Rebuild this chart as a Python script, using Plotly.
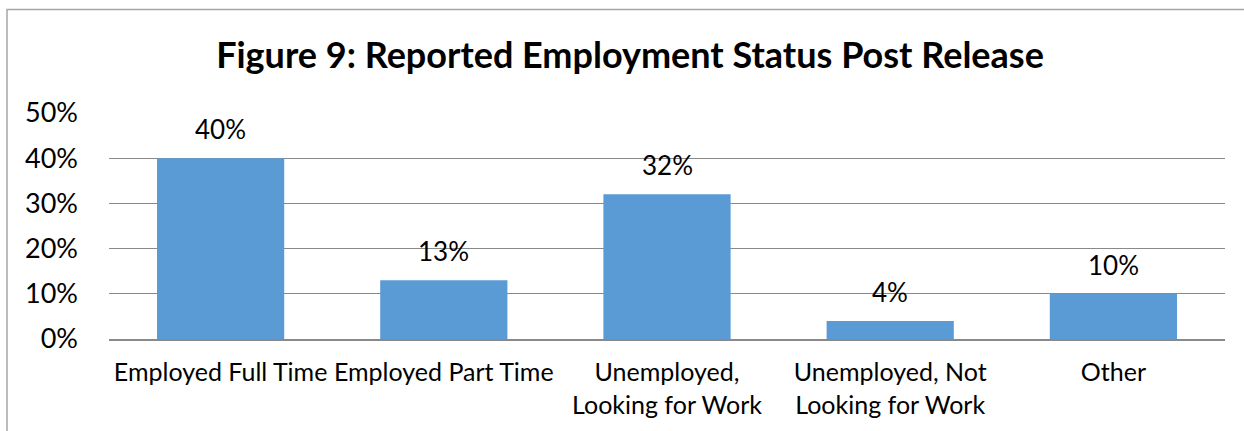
import plotly.graph_objects as go

# Survey results: employment status reported after release
categories = [
    "Employed Full Time",
    "Employed Part Time",
    "Unemployed,<br>Looking for Work",
    "Unemployed, Not<br>Looking for Work",
    "Other",
]
shares = [40, 13, 32, 4, 10]  # percent of respondents
y_ticks = [0, 10, 20, 30, 40, 50]
y_tick_labels = [f"{t}%" for t in y_ticks]

W, H = 1244, 431
M_L, M_R, M_T, M_B = 109, 19, 113, 92
FONT = "Lato"
BAR = "#5B9BD5"
GRID = "#898989"


def px_x(px):
    return (px - M_L) / (W - M_L - M_R)


def px_y(py):
    return 1 - (py - M_T) / (H - M_T - M_B)


fig = go.Figure(
    go.Bar(
        x=categories,
        y=shares,
        marker=dict(color=BAR, line=dict(width=0)),
        hoverinfo="skip",
    )
)

# value labels above each bar
for cat, v in zip(categories, shares):
    fig.add_annotation(
        x=cat, y=v, text=f"{v}%", showarrow=False,
        yanchor="bottom", yshift=11,
        font=dict(family=FONT, size=26, color="#000000"),
    )

# chart border
fig.add_shape(
    type="rect", xref="paper", yref="paper",
    x0=px_x(7), x1=px_x(W + 20), y0=px_y(H + 20), y1=px_y(9.5),
    line=dict(color="#A6A6A6", width=1.5), fillcolor="rgba(0,0,0,0)",
    layer="below",
)

fig.update_layout(
    width=W, height=H,
    margin=dict(l=M_L, r=M_R, t=M_T, b=M_B, pad=0),
    paper_bgcolor="white", plot_bgcolor="white",
    bargap=0.43,
    showlegend=False,
    title=dict(
        text="<b>Figure 9: Reported Employment Status Post Release</b>",
        x=630 / W, xanchor="center",
        y=1 - 55 / H, yanchor="middle",
        font=dict(family=FONT, size=36, color="#000000"),
    ),
    xaxis=dict(
        showgrid=False, showline=True, linecolor=GRID, linewidth=2,
        ticks="", tickfont=dict(family=FONT, size=25, color="#000000"),
        ticklabelstandoff=10,
    ),
    yaxis=dict(
        range=[0, 50], tickvals=y_ticks, ticktext=y_tick_labels,
        showgrid=True, gridcolor=GRID, gridwidth=1,
        zeroline=False, showline=False, ticks="",
        tickfont=dict(family=FONT, size=27, color="#000000"),
        ticklabelstandoff=30,
    ),
)

fig.write_html("out.html")
